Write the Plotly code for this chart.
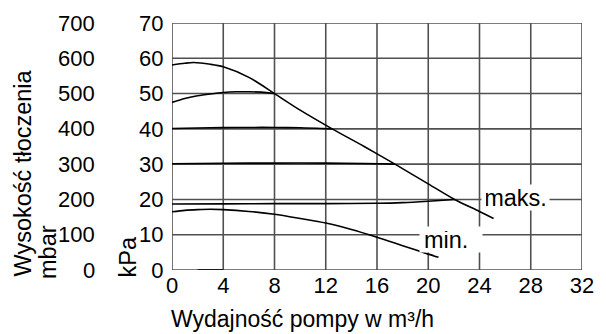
import plotly.graph_objects as go

# ---- data ----
max_x = [0, 1, 1.7, 3, 4, 6, 8, 10, 12.5, 15, 17.4, 20, 22.05, 24, 25.1]
max_y = [58.1, 58.6, 58.8, 58.3, 57.6, 54.6, 50.0, 45.3, 40.0, 35.0, 30.0, 24.4, 20.0, 16.6, 14.6]

s50_x = [0, 1, 2, 3, 4, 5, 6, 7, 8]
s50_y = [47.5, 48.6, 49.4, 49.9, 50.3, 50.5, 50.5, 50.4, 50.0]

s40_x = [0, 2, 4, 6, 8, 10, 12.5]
s40_y = [40.1, 40.25, 40.35, 40.4, 40.4, 40.3, 40.0]

s30_x = [0, 4, 8, 12, 15, 17.4]
s30_y = [30.1, 30.25, 30.3, 30.3, 30.2, 30.0]

s20_x = [0, 4, 8, 12, 16, 18, 20, 22.05]
s20_y = [18.7, 18.75, 18.8, 18.8, 18.9, 19.1, 19.5, 20.0]

min_x = [0, 1, 2, 3, 4, 6, 8, 10, 12, 14, 16, 18, 20, 20.8]
min_y = [16.5, 16.9, 17.1, 17.2, 17.1, 16.6, 15.8, 14.6, 13.3, 11.5, 9.3, 6.9, 4.5, 3.6]

seg_x = [2, 4]
seg_y = [0, 0]

x_ticks = [0, 4, 8, 12, 16, 20, 24, 28, 32]
kpa_ticks = [0, 10, 20, 30, 40, 50, 60, 70]
mbar_labels = ["0", "100", "200", "300", "400", "500", "600", "700"]

FONT = "Liberation Sans, Arial, sans-serif"
W, H = 606, 334
ML, MR, MT, MB = 172, 24, 23, 64
PW = W - ML - MR
PH = H - MT - MB
X_RANGE = [0, 32]
Y_RANGE = [0, 70]
GRID = "#505050"

def py(px):  # pixel row -> paper y
    return (H - MB - px) / PH

def pxx(px):  # pixel column -> paper x
    return (px - ML) / PW

fig = go.Figure()

# grid drawn as line traces built from the tick arrays
for v in x_ticks:
    fig.add_trace(go.Scatter(x=[v, v], y=Y_RANGE, mode="lines",
                             line=dict(color=GRID, width=1.6),
                             showlegend=False, hoverinfo="skip", cliponaxis=False))
for v in kpa_ticks:
    fig.add_trace(go.Scatter(x=X_RANGE, y=[v, v], mode="lines",
                             line=dict(color=GRID, width=1.6),
                             showlegend=False, hoverinfo="skip", cliponaxis=False))

for xs, ys in [(max_x, max_y), (s50_x, s50_y), (s40_x, s40_y), (s30_x, s30_y),
               (s20_x, s20_y), (min_x, min_y), (seg_x, seg_y)]:
    fig.add_trace(go.Scatter(x=xs, y=ys, mode="lines",
                             line=dict(color="black", width=1.6, shape="spline", smoothing=0.8),
                             showlegend=False, hoverinfo="skip", cliponaxis=False))

ann = []
# mbar tick column
for v, t in zip(kpa_ticks, mbar_labels):
    ann.append(dict(x=pxx(97), xref="paper", y=v, yref="y", text=t,
                    xanchor="right", yanchor="middle", showarrow=False,
                    font=dict(family=FONT, size=22, color="black")))
# axis titles
def ytitle(text, cx, cy):
    return dict(x=pxx(cx), xref="paper", y=py(cy), yref="paper",
                text=text, textangle=-90, xanchor="center", yanchor="middle", showarrow=False,
                font=dict(family=FONT, size=23.5, color="black"))
ann.append(ytitle("Wysokość tłoczenia", 22, 173.5))
ann.append(ytitle("mbar", 48, 252))
ann.append(ytitle("kPa", 127, 257.5))
ann.append(dict(x=pxx(169), xref="paper", y=py(319), yref="paper",
                text="Wydajność pompy w m³/h", xanchor="left", yanchor="middle", showarrow=False,
                font=dict(family=FONT, size=23, color="black")))
# curve labels
ann.append(dict(x=26.8, y=20.5, xref="x", yref="y", text="maks.", showarrow=False,
                bgcolor="white", width=59, height=17, borderpad=4, align="center",
                font=dict(family=FONT, size=23.5, color="black")))
ann.append(dict(x=21.8, y=8.64, xref="x", yref="y", text="min.", showarrow=False,
                bgcolor="white", width=54, height=17, borderpad=4, align="left",
                font=dict(family=FONT, size=23.5, color="black")))

fig.update_layout(
    width=W, height=H, margin=dict(l=ML, r=MR, t=MT, b=MB),
    paper_bgcolor="white", plot_bgcolor="white",
    annotations=ann,
    xaxis=dict(range=X_RANGE, tickvals=x_ticks, ticktext=[str(v) for v in x_ticks],
               showgrid=False, zeroline=False, showline=False,
               ticks="",
               tickfont=dict(family=FONT, size=22, color="black")),
    yaxis=dict(range=Y_RANGE, tickvals=kpa_ticks, ticktext=[str(v) for v in kpa_ticks],
               showgrid=False, zeroline=False, showline=False,
               ticks="outside", ticklen=3, tickcolor="rgba(0,0,0,0)",
               tickfont=dict(family=FONT, size=22, color="black")),
)
fig.write_html("out.html")
